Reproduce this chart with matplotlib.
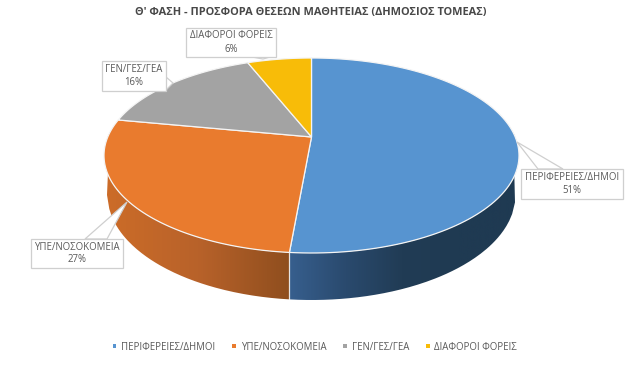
import numpy as np
import matplotlib
matplotlib.use("Agg")
import matplotlib.pyplot as plt
from matplotlib.colors import LinearSegmentedColormap
from matplotlib.patches import Patch, PathPatch, Rectangle
from matplotlib.path import Path

# Datos
categories = ["ΠΕΡΙΦΕΡΕΙΕΣ/ΔΗΜΟΙ", "ΥΠΕ/ΝΟΣΟΚΟΜΕΙΑ", "ΓΕΝ/ΓΕΣ/ΓΕΑ", "ΔΙΑΦΟΡΟΙ ΦΟΡΕΙΣ"]
shares = [51.4, 26.6, 16.0, 6.0]
colors = ["#5794D0", "#E97B2E", "#A3A3A3", "#F8BC08"]
title = "Θ' ΦΑΣΗ - ΠΡΟΣΦΟΡΑ ΘΕΣΕΩΝ ΜΑΘΗΤΕΙΑΣ (ΔΗΜΟΣΙΟΣ ΤΟΜΕΑΣ)"

plt.rcParams["font.family"] = ["Open Sans", "DejaVu Sans"]
TEXT = "#595959"

# Geometria del disco en perspectiva (pixeles)
CX, CY, A, B = 311.5, 155.5, 207.5, 97.5
K = 0.19  # desplaza el vertice hacia el fondo
BOT_CY, BOT_A, BOT_B = 195.0, 204.0, 105.0


# Angulo (horario desde arriba) a punto del borde superior
def rim(theta):
    u, v = np.sin(theta), np.cos(theta)
    w = 1 + K * v
    return CX + A * np.sqrt(1 - K**2) * u / w, CY - B * (v + K) / w


# Lo mismo para el borde inferior de la pared
def lower(x):
    return BOT_CY + BOT_B * np.sqrt(np.clip(1 - ((x - CX) / BOT_A) ** 2, 0, 1))


fig = plt.figure(figsize=(6.29, 3.65), dpi=100)
ax = fig.add_axes([0, 0, 1, 1])

edges = np.cumsum([0] + shares) / sum(shares) * 2 * np.pi


# Pared lateral con degradado, recortada al contorno
def wall(x_start, x_end, theta_a, theta_b, stops):
    ts = np.linspace(theta_a, theta_b, 80)
    xs, ys = rim(ts)
    low_x = np.linspace(x_end, x_start, 80)
    verts = np.vstack([np.column_stack([xs, ys]), np.column_stack([low_x, lower(low_x)])])
    verts = np.vstack([verts, verts[0]])
    cmap = LinearSegmentedColormap.from_list("wall", stops)
    grad = np.linspace(0, 1, 256).reshape(1, -1)
    im = ax.imshow(grad, cmap=cmap, aspect="auto", zorder=1,
                   extent=[min(x_start, x_end), max(x_start, x_end), 320, 100])
    patch = PathPatch(Path(verts), transform=ax.transData, facecolor="none", edgecolor="none")
    ax.add_patch(patch)
    im.set_clip_path(patch)


seam_x, seam_y = rim(edges[1])
# theta del extremo derecho e izquierdo del borde superior
wall(seam_x, 515.0, edges[1], np.arcsin(1 - 1e-3), ["#375F8E", "#2A4A6E", "#213C55", "#1F3A52", "#1F3A52"])
wall(107.0, seam_x, 2 * np.pi - np.arcsin(1 - 1e-3), edges[1], ["#CC6C28", "#B8622A", "#8F4E1E"])
ax.plot([seam_x, seam_x], [seam_y, lower(seam_x)], color="white", lw=0.9, alpha=0.8, zorder=2)

# Cara superior
for i, color in enumerate(colors):
    ts = np.linspace(edges[i], edges[i + 1], 120)
    xs, ys = rim(ts)
    ax.fill(np.r_[CX, xs], np.r_[CY - B * K, ys],
            facecolor=color, edgecolor="#F4F4F4", lw=0.9, zorder=3)

# Etiquetas: caja y puntero
boxes = [(521, 169, 102, 30), (31, 239, 92, 29), (102, 61, 64, 30), (186, 28, 90, 29)]
pointers = [
    [(538, 169), (517, 142), (563, 169)],
    [(85, 239), (127, 202), (107, 239)],
    [(166, 77), (173, 83), (166, 90)],
    [(252, 57), (263, 59), (270, 57)],
]
shown = [int(round(s)) for s in shares]
for cat, pct, box, ptr in zip(categories, shown, boxes, pointers):
    x, y, w, h = box
    px, py = zip(*ptr)
    ax.fill(px, py, facecolor="white", edgecolor="#CFCFCF", lw=0.9, zorder=4)
    ax.add_patch(Rectangle((x, y), w, h, facecolor="white", edgecolor="#CFCFCF", lw=0.9, zorder=5))
    ax.text(x + w / 2, y + h / 2, f"{cat}\n{pct}%", ha="center", va="center", fontsize=6.9,
            color=TEXT, zorder=6, linespacing=1.25)

ax.set_xlim(0, 629)
ax.set_ylim(365, 0)
ax.axis("off")

ax.text(311, 12.5, title, ha="center", va="center", fontsize=7.9, fontweight="bold", color="#484848")

handles = [Patch(facecolor=c, label=l) for c, l in zip(colors, categories)]
ax.legend(handles=handles, ncol=4, loc="center", bbox_to_anchor=(315 / 629, 1 - 347 / 365), frameon=False,
          fontsize=6.9, labelcolor=TEXT, handlelength=0.35, handleheight=0.35, handletextpad=0.5,
          columnspacing=1.8, borderpad=0)

fig.savefig("out.png", dpi=100, facecolor="white")
plt.close(fig)
